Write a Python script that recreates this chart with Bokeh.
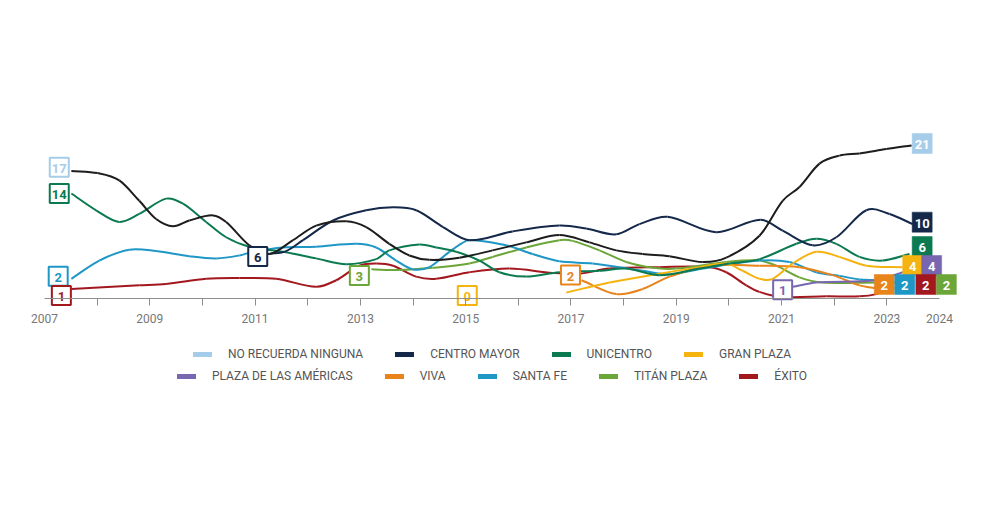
from bokeh.plotting import figure
from bokeh.models import Range1d, LinearAxis, FixedTicker, Legend, LegendItem
from bokeh.core.properties import value
from bokeh.embed import file_html
from bokeh.resources import INLINE

FONT = "Roboto"

# ---------------- data ----------------
names = ["NO RECUERDA NINGUNA", "CENTRO MAYOR", "UNICENTRO", "GRAN PLAZA",
         "PLAZA DE LAS AMÉRICAS", "VIVA", "SANTA FE", "TITÁN PLAZA", "ÉXITO"]

nr_years = [2007.51, 2008.01, 2008.42, 2008.80, 2009.12, 2009.44, 2009.75, 2010.20, 2010.45, 2010.89,
            2011.27, 2011.72, 2012.16, 2012.73, 2013.11, 2013.55, 2013.93, 2014.31, 2014.88, 2015.51,
            2016.15, 2016.78, 2017.35, 2017.86, 2018.36, 2018.87, 2019.50, 2019.95, 2020.58, 2021.02,
            2021.34, 2021.72, 2022.10, 2022.48, 2022.99, 2023.47]
nr_values = [17.5, 17.2, 16.2, 13.4, 10.9, 9.9, 10.7, 11.4, 10.5, 7.3,
             6.1, 8.0, 10.0, 10.6, 9.8, 7.5, 5.9, 5.3, 5.6, 6.6,
             7.7, 8.7, 7.7, 6.6, 6.1, 5.8, 5.0, 5.6, 8.6, 13.4,
             15.3, 18.5, 19.6, 19.9, 20.5, 21.0]

cm_years = [2011.27, 2011.59, 2011.91, 2012.48, 2013.11, 2013.62, 2014.06, 2014.57, 2015.07, 2015.89,
            2016.78, 2017.29, 2017.86, 2018.30, 2018.83, 2019.76, 2020.60, 2021.02, 2021.59, 2022.04,
            2022.61, 2023.05, 2023.49]
cm_values = [6.1, 6.5, 8.0, 10.7, 12.1, 12.5, 12.1, 9.8, 8.0, 9.2,
             10.0, 9.6, 8.8, 10.2, 11.2, 9.1, 10.8, 9.3, 7.3, 8.4,
             12.1, 11.6, 10.2]

un_years = [2007.51, 2007.98, 2008.42, 2008.80, 2009.31, 2009.63, 2010.07, 2010.45, 2010.89, 2011.53,
            2012.16, 2012.73, 2013.30, 2013.55, 2014.12, 2014.44, 2014.82, 2015.26, 2015.64, 2016.15,
            2016.78, 2017.54, 2018.05, 2018.68, 2019.44, 2020.01, 2020.58, 2021.28, 2021.66, 2022.04,
            2022.48, 2022.92, 2023.43]
un_values = [14.4, 12.1, 10.5, 11.6, 13.7, 13.0, 10.5, 8.4, 7.1, 6.4,
             5.5, 4.7, 5.4, 6.6, 7.4, 7.0, 6.4, 5.2, 3.6, 3.0,
             3.6, 3.8, 4.1, 3.2, 4.1, 4.8, 5.4, 7.5, 8.2, 7.5,
             5.7, 5.2, 6.1]

gp_years = [2016.91, 2017.73, 2018.68, 2019.44, 2019.95, 2020.26, 2020.58, 2020.83, 2021.21, 2021.66,
            2022.10, 2022.61, 2023.30]
gp_values = [0.8, 2.2, 3.4, 4.3, 4.8, 3.8, 2.7, 2.7, 4.8, 6.4,
             5.7, 4.5, 4.3]

pa_years = [2021.21, 2021.66, 2022.80, 2023.30, 2023.45]
pa_values = [1.6, 2.2, 2.5, 3.6, 4.0]

vv_years = [2017.20, 2017.86, 2018.36, 2018.87, 2019.63, 2020.58, 2021.34, 2021.97, 2022.48, 2022.80]
vv_values = [2.5, 0.6, 1.3, 3.0, 4.5, 4.5, 4.3, 3.2, 1.8, 1.4]

sf_years = [2007.51, 2008.04, 2008.61, 2009.12, 2009.75, 2010.26, 2010.70, 2010.96, 2011.53, 2012.16,
            2012.92, 2013.30, 2013.68, 2013.99, 2014.31, 2014.69, 2015.01, 2015.17, 2015.77, 2016.27,
            2016.78, 2017.41, 2018.36, 2018.87, 2019.50, 2020.58, 2021.15, 2021.66, 2022.10, 2022.48,
            2022.80, 2023.14]
sf_values = [2.7, 5.2, 6.7, 6.5, 5.8, 5.5, 5.9, 6.4, 7.0, 7.1,
             7.5, 7.0, 5.2, 4.0, 4.3, 6.4, 7.9, 8.0, 7.3, 6.1,
             5.1, 4.8, 3.8, 3.3, 4.1, 5.2, 5.0, 3.6, 3.1, 2.6,
             2.5, 2.3]

tp_years = [2013.21, 2013.74, 2014.37, 2015.07, 2015.51, 2016.15, 2016.78, 2017.03, 2017.54, 2018.05,
            2018.56, 2019.00, 2019.95, 2020.58, 2020.90, 2021.34, 2021.78, 2022.80, 2023.43]
tp_values = [4.0, 3.9, 4.2, 4.8, 5.7, 7.0, 8.0, 7.9, 6.6, 5.0,
             4.2, 4.1, 5.0, 5.2, 4.5, 2.9, 2.2, 2.2, 2.2]

ex_years = [2007.51, 2008.80, 2009.31, 2010.07, 2010.70, 2011.40, 2012.16, 2012.54, 2012.98, 2013.30,
            2013.62, 2014.06, 2014.44, 2015.07, 2015.83, 2016.65, 2017.16, 2017.73, 2018.68, 2019.63,
            2019.95, 2020.33, 2020.58, 2021.02, 2021.85, 2022.48, 2022.80, 2023.14]
ex_values = [1.3, 1.8, 2.0, 2.7, 2.8, 2.7, 1.6, 2.5, 4.5, 4.8,
             4.5, 3.0, 2.7, 3.6, 4.1, 3.5, 3.4, 4.1, 4.3, 4.3,
             3.6, 1.8, 0.9, 0.2, 0.3, 0.3, 0.6, 1.5]

# first / last reported values (labels)
start_values = [17, 6, 14, 0, 1, 2, 2, 3, 1]
end_values = [21, 10, 6, 4, 4, 2, 2, 2, 2]

tick_years = [2007, 2009, 2011, 2013, 2015, 2017, 2019, 2021, 2023, 2024]
tick_labels = ["2007", "2009", "2011", "2013", "2015", "2017", "2019", "2021", "2023", "2024"]
minor_years = list(range(2008, 2024))

# ---------------- styles / layout ----------------
legend_colors = ["#a5cde9", "#14284a", "#0b7a50", "#f5b30f", "#7866b0", "#e9841b", "#1f97c6", "#6ca638", "#a3171f"]
line_colors = ["#1d1d1d"] + legend_colors[1:]
label_colors = legend_colors

# label anchors (year, value) for start and end boxes, stacked as in the chart
start_pos = [(2007.28, 18.0), (2011.05, 5.76), (2007.28, 14.4), (2015.03, 0.41), (2021.02, 1.19),
             (2016.99, 3.22), (2007.26, 3.05), (2012.98, 3.16), (2007.32, 0.41)]
end_pos = [(2023.67, 21.26), (2023.67, 10.47), (2023.67, 7.13), (2023.49, 4.53), (2023.85, 4.53),
           (2022.95, 1.92), (2023.34, 1.92), (2024.13, 1.92), (2023.74, 1.92)]

series = [(nr_years, nr_values), (cm_years, cm_values), (un_years, un_values), (gp_years, gp_values),
          (pa_years, pa_values), (vv_years, vv_values), (sf_years, sf_values), (tp_years, tp_values),
          (ex_years, ex_values)]

p = figure(frame_width=984, frame_height=440, output_backend="svg", toolbar_location=None,
           x_axis_location=None, y_axis_location=None,
           x_range=Range1d(2006.164, 2024.854), y_range=Range1d(-20.58, 39.78),
           min_border_left=0, min_border_right=0, min_border_top=8, min_border_bottom=0,
           outline_line_color=None, background_fill_color="white", border_fill_color="white")
p.grid.visible = False


def hermite(xs, ys):
    n = len(xs)
    m = []
    for i in range(n):
        if i == 0:
            m.append((ys[1] - ys[0]) / (xs[1] - xs[0]))
        elif i == n - 1:
            m.append((ys[-1] - ys[-2]) / (xs[-1] - xs[-2]))
        else:
            m.append((ys[i + 1] - ys[i - 1]) / (xs[i + 1] - xs[i - 1]))
    seg = dict(x0=[], y0=[], x1=[], y1=[], cx0=[], cy0=[], cx1=[], cy1=[])
    for i in range(n - 1):
        h = xs[i + 1] - xs[i]
        seg["x0"].append(xs[i]); seg["y0"].append(ys[i])
        seg["x1"].append(xs[i + 1]); seg["y1"].append(ys[i + 1])
        seg["cx0"].append(xs[i] + h / 3); seg["cy0"].append(ys[i] + m[i] * h / 3)
        seg["cx1"].append(xs[i + 1] - h / 3); seg["cy1"].append(ys[i + 1] - m[i + 1] * h / 3)
    return seg


draw_order = [8, 7, 6, 5, 4, 3, 2, 1, 0]
for i in draw_order:
    xs, ys = series[i]
    s = hermite(xs, ys)
    p.bezier(x0=s["x0"], y0=s["y0"], x1=s["x1"], y1=s["y1"],
             cx0=s["cx0"], cy0=s["cy0"], cx1=s["cx1"], cy1=s["cy1"],
             line_color=line_colors[i], line_width=2)

# x axis at value 0
axis = LinearAxis(fixed_location=0,
                  ticker=FixedTicker(ticks=tick_years, minor_ticks=minor_years),
                  bounds=(2007, 2024),
                  major_label_overrides={y: t for y, t in zip(tick_years, tick_labels)},
                  axis_line_color="#8e8e8e", axis_line_width=1,
                  major_tick_in=0, major_tick_out=0,
                  minor_tick_in=0, minor_tick_out=7, minor_tick_line_color="#8e8e8e",
                  major_label_text_font=FONT, major_label_text_font_size="12px",
                  major_label_text_color="#777777", major_label_standoff=9)
p.add_layout(axis, "below")

# start labels: white box, coloured border & text
sx = [q[0] for q in start_pos]
sy = [q[1] for q in start_pos]
p.scatter(x=sx, y=sy, marker="square", size=19, fill_color="white",
          line_color=label_colors, line_width=2)
p.text(x=sx, y=sy, text=[str(v) for v in start_values], text_align="center", text_baseline="middle",
       text_font=value(FONT), text_font_style="bold", text_font_size="13px", text_color=label_colors,
       y_offset=1)

# end labels: filled boxes, white text
ex_ = [q[0] for q in end_pos]
ey_ = [q[1] for q in end_pos]
p.scatter(x=ex_, y=ey_, marker="square", size=20, fill_color=label_colors, line_color=label_colors,
          line_width=0.5)
p.text(x=ex_, y=ey_, text=[str(v) for v in end_values], text_align="center", text_baseline="middle",
       text_font=value(FONT), text_font_style="bold", text_font_size="13px", text_color="white",
       y_offset=1)

# legend (two rows); legend-only renderers hold no visible data
nan = float("nan")
dummies = []
for c in legend_colors:
    dummies.append(p.line(x=[nan], y=[nan], line_color=c, line_width=5, line_cap="round"))


def make_legend(idx, margin):
    lg = Legend(items=[LegendItem(label=names[k], renderers=[dummies[k]]) for k in idx],
                orientation="horizontal", location="bottom_center", margin=margin, padding=0,
                spacing=32, glyph_width=19, glyph_height=16, label_height=16, label_standoff=16,
                label_text_font=FONT, label_text_font_size="12px", label_text_color="#555555",
                background_fill_alpha=0, border_line_alpha=0)
    return lg


p.add_layout(make_legend([0, 1, 2, 3], 86), "center")
p.add_layout(make_legend([4, 5, 6, 7, 8], 64), "center")

open("out.html", "w").write(file_html(p, INLINE))
